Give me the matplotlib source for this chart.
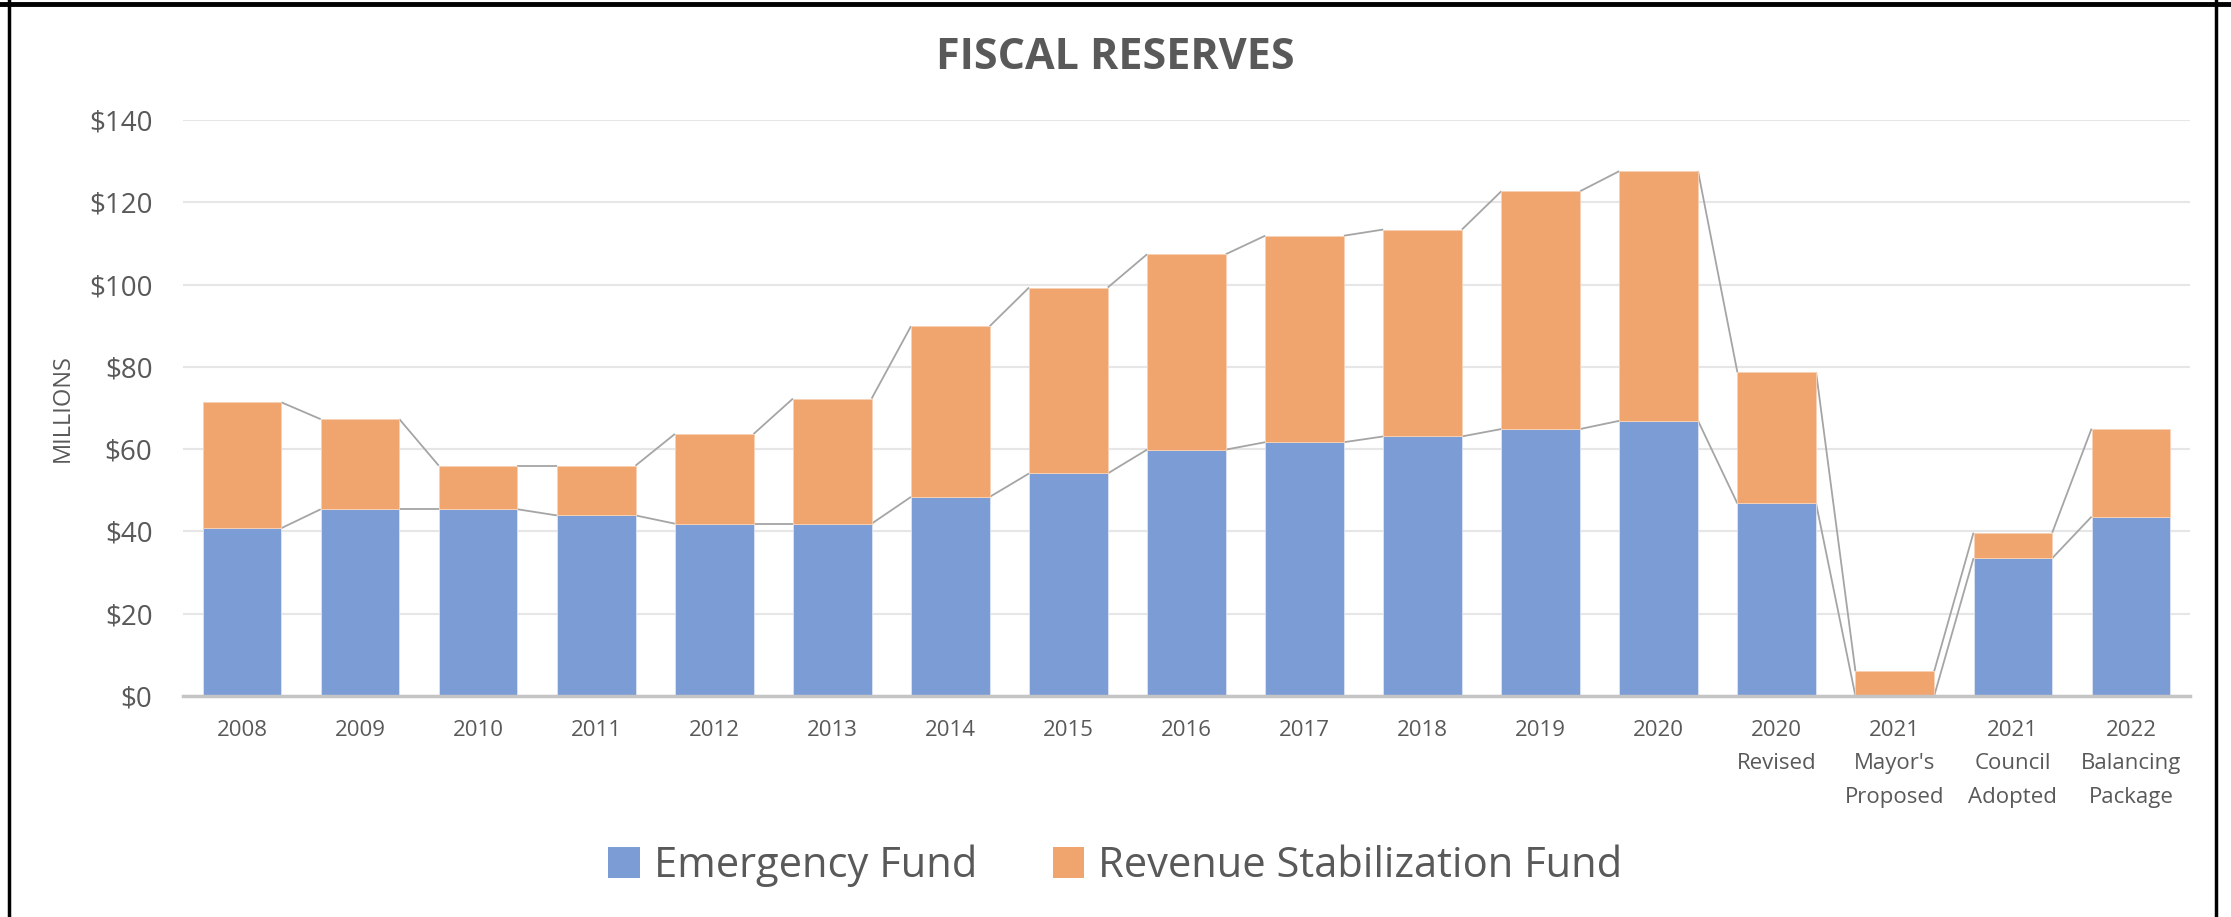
import matplotlib
matplotlib.use("Agg")
import numpy as np
from matplotlib import pyplot as plt
from matplotlib.lines import Line2D
from matplotlib.patches import Patch

plt.rcParams['font.family'] = ['Open Sans', 'DejaVu Sans']

# data (millions of dollars)
categories = ["2008", "2009", "2010", "2011", "2012", "2013", "2014", "2015",
              "2016", "2017", "2018", "2019", "2020", "2020\nRevised",
              "2021\nMayor's\nProposed", "2021\nCouncil\nAdopted",
              "2022\nBalancing\nPackage"]
emergency = [40.8, 45.4, 45.4, 43.9, 41.9, 41.9, 48.4, 54.1, 59.9, 61.7,
             63.1, 64.9, 66.9, 46.8, 0.0, 33.5, 43.6]
revenue = [30.6, 21.9, 10.6, 12.1, 21.8, 30.4, 41.5, 45.2, 47.5, 50.2,
           50.3, 57.8, 60.7, 31.9, 6.0, 6.2, 21.4]
y_ticks = [0, 20, 40, 60, 80, 100, 120, 140]

blue = '#7B9CD5'
orange = '#F0A46E'
text_col = '#595959'
line_col = '#A5A5A5'
bar_w = 2 / 3

fig = plt.figure(figsize=(22.31, 9.17), dpi=100)
ax = fig.add_axes([0.082, 0.241, 0.8996, 0.628])

x = np.arange(len(categories))
emergency = np.array(emergency)
total = emergency + np.array(revenue)

ax.bar(x, emergency, width=bar_w, color=blue, edgecolor='#DCE4F3', linewidth=0.6, zorder=3)
ax.bar(x, revenue, width=bar_w, bottom=emergency, color=orange, edgecolor='#F8D2B5', linewidth=0.6, zorder=3)

# series lines joining the bar tops (Excel style)
for vals in (emergency, total):
    for i in range(len(x) - 1):
        ax.plot([x[i] + bar_w / 2, x[i + 1] - bar_w / 2], [vals[i], vals[i + 1]],
                color=line_col, lw=1.3, zorder=2, solid_capstyle='butt')

ax.set_xlim(-0.5, len(x) - 0.5)
ax.set_ylim(0, 140)
ax.set_yticks(y_ticks)
ax.set_yticklabels([f"${v}" for v in y_ticks])
ax.set_xticks(x)
ax.set_xticklabels(categories, linespacing=1.8)
ax.tick_params(axis='y', length=0, pad=22, labelsize=20, labelcolor=text_col)
ax.tick_params(axis='x', length=0, pad=17, labelsize=16, labelcolor=text_col)
for lab in ax.get_xticklabels():
    lab.set_verticalalignment('top')

ax.grid(axis='y', color='#E6E6E6', lw=1.5, zorder=0)
for s in ['top', 'right', 'left']:
    ax.spines[s].set_visible(False)
ax.spines['bottom'].set_color('#C4C4C4')
ax.spines['bottom'].set_linewidth(2.5)
ax.spines['bottom'].set_zorder(4)

ax.set_ylabel("MILLIONS", fontsize=17, color=text_col)
ax.yaxis.set_label_coords(-0.054, 0.5)

fig.text(0.5, 0.937, "FISCAL RESERVES", ha='center', va='center',
         fontsize=31, fontweight='bold', color=text_col)

handles = [Patch(facecolor=blue, edgecolor='none'),
           Patch(facecolor=orange, edgecolor='none')]
fig.legend(handles, ["Emergency Fund", "Revenue Stabilization Fund"],
           loc='center', bbox_to_anchor=(0.5, 0.056), ncol=2, frameon=False,
           fontsize=30, labelcolor=text_col, handlelength=0.75, handleheight=0.75,
           handletextpad=0.35, columnspacing=1.8)

# outer chart frame
fig.add_artist(Line2D([0, 1], [0.9955, 0.9955], transform=fig.transFigure, color='black', lw=3.5))
fig.add_artist(Line2D([0.0042, 0.0042], [0, 1], transform=fig.transFigure, color='black', lw=2.5))
fig.add_artist(Line2D([0.9935, 0.9935], [0, 1], transform=fig.transFigure, color='black', lw=2.5))

fig.savefig("out.png", dpi=100)
